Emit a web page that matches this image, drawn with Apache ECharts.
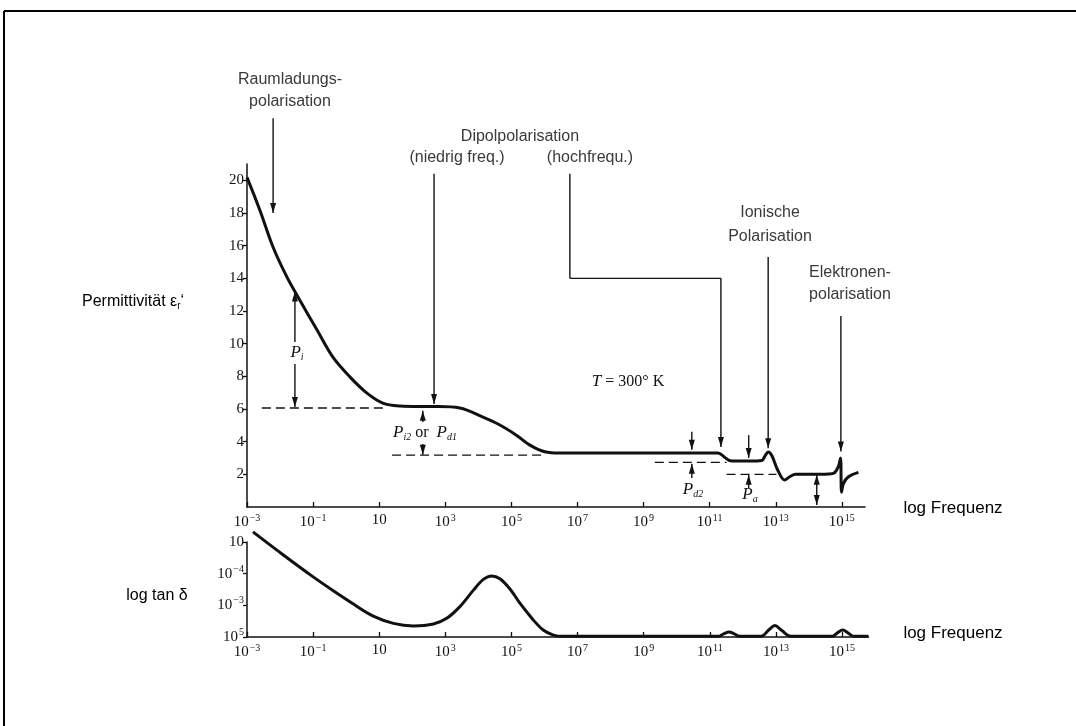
<!DOCTYPE html>
<html>
<head>
<meta charset="utf-8">
<title>Polarisationsmechanismen</title>
<script src="https://cdn.jsdelivr.net/npm/echarts@6/dist/echarts.min.js"></script>
<style>
    html, body { margin: 0; padding: 0; background: #fff; }
    #main { width: 1076px; height: 726px; }
</style>
</head>
<body>
<div id="main"></div>
<script>
// oberes Diagramm: Permittivitaet ueber log10(f)
var epsLogF = [-3.0, -2.61, -2.21, -1.79, -1.40, -0.88, -0.40, 0.12, 0.63, 1.11, 1.63, 2.2, 2.8, 3.44, 4.14, 4.65,
    5.15, 5.56, 6.01, 6.47, 8.0, 10.0, 11.25, 11.45, 11.62, 11.8, 12.2, 12.58, 12.68, 12.77, 12.88, 13.05, 13.27,
    13.42, 13.6, 14.0, 14.6, 14.78, 14.9, 14.96, 14.99, 15.05, 15.2, 15.5];
var epsValue = [20.18, 18.17, 15.9, 14.07, 12.66, 10.83, 9.17, 7.95, 6.97, 6.36, 6.18, 6.15, 6.15, 6.06, 5.5, 5.02,
    4.4, 3.79, 3.38, 3.3, 3.3, 3.3, 3.3, 3.05, 2.83, 2.81, 2.81, 2.85, 3.15, 3.36, 3.15, 2.3, 1.65,
    1.85, 2.0, 2.0, 2.02, 2.1, 2.5, 3.0, 0.9, 1.45, 1.85, 2.12];

// unteres Diagramm: Verlustfaktor ueber log10(f)
var lossLogF = [-2.82, -1.90, -1.04, -0.39, 0.22, 0.82, 1.43, 2.03, 2.64, 3.04, 3.44, 3.85, 4.15, 4.40, 4.65, 4.96,
    5.26, 5.66, 5.96, 6.27, 6.57, 9.0, 11.25, 11.42, 11.58, 11.74, 11.9, 12.55, 12.78, 12.97, 13.16, 13.45,
    14.7, 14.86, 15.02, 15.18, 15.35, 15.8];
var lossValue = [3.32, 2.59, 1.93, 1.46, 1.04, 0.66, 0.43, 0.35, 0.41, 0.59, 0.96, 1.48, 1.82, 1.93, 1.84, 1.51,
    1.06, 0.54, 0.22, 0.06, 0.02, 0.02, 0.02, 0.1, 0.16, 0.1, 0.02, 0.02, 0.22, 0.36, 0.22, 0.02,
    0.02, 0.13, 0.22, 0.13, 0.02, 0.02];

// Achsenbeschriftungen
var xTickExp = [-3, -1, 1, 3, 5, 7, 9, 11, 13, 15];
var epsTicks = [2, 4, 6, 8, 10, 12, 14, 16, 18, 20];
var lossTicks = [0, 1, 2, 3];
var lossTickLabels = ['10{sup|5}', '10{sup|\u22123}', '10{sup|\u22124}', '10'];

var SERIF = '"Liberation Serif", "DejaVu Serif", serif';
var SANS = '"Liberation Sans", Arial, sans-serif';
var INK = '#111';

function zip(xs, ys) {
    var out = [];
    xs.forEach(function (x, i) {
        out.push([x, ys[i]]);
    });
    return out;
}

function powLabel(v) {
    if (v === 1) {
        return '{b|10}';
    }
    return '{b|10}{sup|' + String(v).replace('-', '\u2212') + '}';
}

var tickRich = {
    b: { fontFamily: SERIF, fontSize: 15, color: INK },
    sup: { fontFamily: SERIF, fontSize: 10, color: INK, padding: [0, 0, 9, 1] }
};

function xAxisFor(gridIndex, max) {
    return {
        type: 'value', gridIndex: gridIndex, min: -3, max: max,
        axisLine: { onZero: false, lineStyle: { color: INK, width: 1.5 } },
        axisTick: { inside: true, length: 5, customValues: xTickExp, lineStyle: { color: INK, width: 1.3 } },
        axisLabel: {
            customValues: xTickExp, margin: 6, formatter: powLabel, rich: tickRich
        },
        splitLine: { show: false }
    };
}

var myChart = echarts.init(document.getElementById('main'));

var option = {
    animation: false,
    backgroundColor: '#fff',
    grid: [
        { left: 247, top: 164, width: 618, height: 343 },
        { left: 247, top: 542, width: 621.5, height: 95 }
    ],
    xAxis: [xAxisFor(0, 15.7), xAxisFor(1, 15.8)],
    yAxis: [
        {
            type: 'value', gridIndex: 0, min: 0, max: 21,
            axisLine: { show: true, onZero: false, lineStyle: { color: INK, width: 1.5 } },
            axisTick: { show: true, length: 4, customValues: epsTicks, lineStyle: { color: INK, width: 1.3 } },
            axisLabel: {
                customValues: epsTicks, margin: 3,
                fontFamily: SERIF, fontSize: 15, color: INK
            },
            splitLine: { show: false }
        },
        {
            type: 'value', gridIndex: 1, min: 0, max: 3,
            axisLine: { show: true, onZero: false, lineStyle: { color: INK, width: 1.5 } },
            axisTick: { show: true, length: 4, customValues: lossTicks, lineStyle: { color: INK, width: 1.3 } },
            axisLabel: {
                customValues: lossTicks, margin: 3,
                formatter: function (v) {
                    return lossTickLabels[v].replace(/^10/, '{b|10}');
                },
                rich: tickRich
            },
            splitLine: { show: false }
        }
    ],
    series: [
        {
            name: 'Permittivitaet', type: 'line', xAxisIndex: 0, yAxisIndex: 0,
            data: zip(epsLogF, epsValue),
            showSymbol: false, smooth: 0.35,
            lineStyle: { color: INK, width: 3 }
        },
        {
            name: 'tan delta', type: 'line', xAxisIndex: 1, yAxisIndex: 1,
            data: zip(lossLogF, lossValue),
            showSymbol: false, smooth: 0.35, clip: false,
            lineStyle: { color: INK, width: 3 }
        }
    ]
};

myChart.setOption(option);

// Hilfslinien und Pfeile, in Datenkoordinaten des oberen Diagramms
var dashes = [
    [-2.55, 6.06, 1.17, 6.06],
    [1.39, 3.18, 6.0, 3.18],
    [9.34, 2.73, 11.51, 2.73],
    [11.51, 2.0, 13.02, 2.0]
];
var arrows = [
    [-2.21, 23.8, -2.21, 18.0, 'end'],
    [2.66, 20.4, 2.66, 6.3, 'end'],
    [6.77, 20.4, 6.77, 14.0, 'none'],
    [6.77, 14.0, 11.34, 14.0, 'none'],
    [11.34, 14.0, 11.34, 3.67, 'end'],
    [12.77, 15.3, 12.77, 3.6, 'end'],
    [14.97, 11.7, 14.97, 3.4, 'end'],
    [-1.55, 13.2, -1.55, 6.12, 'both'],
    [2.32, 5.0, 2.32, 5.9, 'end'],
    [2.32, 4.1, 2.32, 3.2, 'end'],
    [10.46, 4.6, 10.46, 3.5, 'end'],
    [10.46, 1.77, 10.46, 2.65, 'end'],
    [12.18, 4.4, 12.18, 3.0, 'end'],
    [12.18, 1.16, 12.18, 1.98, 'end'],
    [14.24, 1.98, 14.24, 0.12, 'both']
];

function px(x, y) {
    return myChart.convertToPixel({ gridIndex: 0 }, [x, y]);
}

function head(tip, from) {
    var dx = tip[0] - from[0], dy = tip[1] - from[1];
    var len = Math.sqrt(dx * dx + dy * dy) || 1;
    var ux = dx / len, uy = dy / len;
    var bx = tip[0] - ux * 10, by = tip[1] - uy * 10;
    return {
        type: 'polygon', z: 10,
        shape: { points: [tip, [bx - uy * 3, by + ux * 3], [bx + uy * 3, by - ux * 3]] },
        style: { fill: INK }
    };
}

function label(text, x, y, font, fill) {
    return {
        type: 'text', z: 12,
        style: { text: text, x: x, y: y, font: font, fill: fill || '#3a3a3a', align: 'center', verticalAlign: 'middle' }
    };
}

var graphics = [
    { type: 'line', shape: { x1: 4, y1: 11, x2: 1076, y2: 11 }, style: { stroke: '#000', lineWidth: 2 } },
    { type: 'line', shape: { x1: 4, y1: 11, x2: 4, y2: 726 }, style: { stroke: '#000', lineWidth: 2 } }
];

dashes.forEach(function (d) {
    var a = px(d[0], d[1]), b = px(d[2], d[3]);
    graphics.push({
        type: 'line', z: 5,
        shape: { x1: a[0], y1: a[1], x2: b[0], y2: b[1] },
        style: { stroke: INK, lineWidth: 1.3, lineDash: [9, 5] }
    });
});

arrows.forEach(function (d) {
    var a = px(d[0], d[1]), b = px(d[2], d[3]);
    graphics.push({
        type: 'line', z: 5,
        shape: { x1: a[0], y1: a[1], x2: b[0], y2: b[1] },
        style: { stroke: INK, lineWidth: 1.4 }
    });
    if (d[4] === 'end' || d[4] === 'both') {
        graphics.push(head(b, a));
    }
    if (d[4] === 'start' || d[4] === 'both') {
        graphics.push(head(a, b));
    }
});

var sans16 = '16px ' + SANS;
graphics.push(label('Raumladungs-', 290, 80, sans16));
graphics.push(label('polarisation', 290, 102, sans16));
graphics.push(label('Dipolpolarisation', 520, 137, sans16));
graphics.push(label('(niedrig freq.)', 457, 158, sans16));
graphics.push(label('(hochfrequ.)', 590, 158, sans16));
graphics.push(label('Ionische', 770, 213, sans16));
graphics.push(label('Polarisation', 770, 237, sans16));
graphics.push(label('Elektronen-', 850, 273, sans16));
graphics.push(label('polarisation', 850, 295, sans16));
graphics.push(label('log Frequenz', 953, 508, '17px ' + SANS, '#000'));
graphics.push(label('log Frequenz', 953, 633, '17px ' + SANS, '#000'));
graphics.push(label('log tan \u03b4', 157, 596, '16px ' + SANS, '#000'));

graphics.push({
    type: 'text', z: 12,
    style: {
        text: '{a|Permittivit\u00e4t \u03b5}{s|r}{a|\u2018}', x: 82, y: 302, verticalAlign: 'middle',
        rich: {
            a: { fontFamily: SANS, fontSize: 16, fill: '#000' },
            s: { fontFamily: SANS, fontSize: 10, fill: '#000', padding: [8, 0, 0, 0] }
        }
    }
});

var italicRich = {
    p: { fontFamily: SERIF, fontStyle: 'italic', fontSize: 17, fill: INK },
    s: { fontFamily: SERIF, fontStyle: 'italic', fontSize: 10, fill: INK, padding: [8, 0, 0, 0] },
    t: { fontFamily: SERIF, fontSize: 16, fill: INK }
};

function italicLabel(text, x, y, bg) {
    return {
        type: 'text', z: 12,
        style: {
            text: text, x: x, y: y, align: 'center', verticalAlign: 'middle', rich: italicRich,
            backgroundColor: bg ? '#fff' : null, padding: bg ? [2, 1] : 0
        }
    };
}

graphics.push(italicLabel('{p|P}{s|i}', 297, 353, true));
graphics.push(italicLabel('{p|P}{s|i2}{t| or  }{p|P}{s|d1}', 425, 433, true));
graphics.push(italicLabel('{p|P}{s|d2}', 693, 490, false));
graphics.push(italicLabel('{p|P}{s|a}', 750, 495, false));
graphics.push(italicLabel('{p|T}{t| = 300\u00b0 K}', 628, 382, false));

myChart.setOption({ graphic: graphics });
</script>
</body>
</html>
